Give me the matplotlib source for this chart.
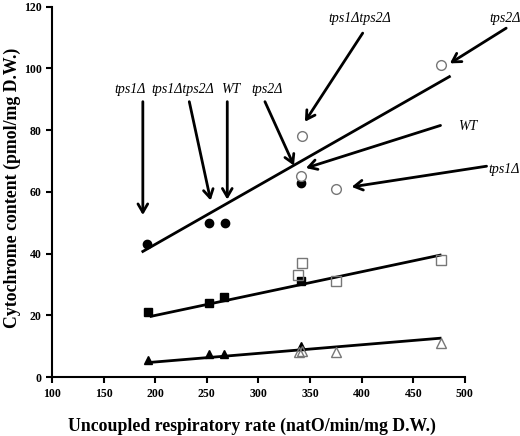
import matplotlib.pyplot as plt

plt.rcParams['font.family'] = ['Liberation Serif', 'DejaVu Serif']

# filled = mean values, open = mutants (circle / square / triangle series)
circ_x = [192, 252, 268, 341]
circ_y = [43, 50, 50, 63]
circ_open_x = [341, 342, 375, 477]
circ_open_y = [65, 78, 61, 101]

sq_x = [193, 252, 267, 341]
sq_y = [21, 24, 26, 31]
sq_open_x = [338, 342, 375, 477]
sq_open_y = [33, 37, 31, 38]

tri_x = [193, 252, 267, 341]
tri_y = [5.5, 7.5, 7.5, 10]
tri_open_x = [339, 342, 375, 477]
tri_open_y = [8, 8.5, 8, 11]

# regression lines (end points)
fit_x = [[188, 485], [196, 476], [196, 476]]
fit_y = [[40.7, 97.3], [19.7, 39.5], [4.8, 12.6]]

# labels: text, text pos, arrow start, arrow end
ann_text = ['tps1Δ', 'tps1Δtps2Δ', 'WT', 'tps2Δ', 'tps1Δtps2Δ', 'tps2Δ', 'WT', 'tps1Δ']
ann_txt_xy = [(175.5, 93), (227, 93), (273.4, 93), (308.2, 93),
              (398.3, 116.2), (538.7, 116.2), (502.6, 81.2), (538.3, 67.2)]
ann_start = [(188, 89.2), (233, 89.2), (269.8, 89.2), (306.3, 89.2),
             (401, 111.4), (540, 113), (476.4, 81.5), (521, 68.3)]
ann_end = [(188, 52.5), (253.7, 57.2), (269.8, 57.5), (334.4, 68.5),
           (345, 82.7), (485.5, 101.6), (346, 67.7), (390.3, 61.6)]

fig = plt.figure(figsize=(5.2, 4.36), dpi=100)
ax = fig.add_axes([0.1, 0.135, 0.794, 0.85])

for fx, fy in zip(fit_x, fit_y):
    ax.plot(fx, fy, color='black', lw=2, zorder=2)

grey = '#777777'
ax.plot(circ_x, circ_y, 'o', color='black', ms=6, zorder=3)
ax.plot(circ_open_x, circ_open_y, 'o', mfc='white', mec=grey, ms=7, zorder=3)
ax.plot(sq_x, sq_y, 's', color='black', ms=6, zorder=3)
ax.plot(sq_open_x, sq_open_y, 's', mfc='none', mec=grey, ms=7, zorder=3)
ax.plot(tri_x, tri_y, '^', color='black', ms=6, zorder=3)
ax.plot(tri_open_x, tri_open_y, '^', mfc='none', mec=grey, ms=7, zorder=3)

for t, txy, s, e in zip(ann_text, ann_txt_xy, ann_start, ann_end):
    ax.text(txy[0], txy[1], t, ha='center', va='center', style='italic',
            fontsize=10, clip_on=False)
    ax.annotate('', xy=e, xytext=s, annotation_clip=False,
                arrowprops=dict(arrowstyle='->,head_length=0.6,head_width=0.35',
                                color='black', lw=2, shrinkA=0, shrinkB=0))

ax.set_xlim(100, 500)
ax.set_ylim(0, 120)
ax.set_xticks(range(100, 501, 50))
ax.set_yticks(range(0, 121, 20))
ax.spines['top'].set_visible(False)
ax.spines['right'].set_visible(False)
ax.spines['left'].set_linewidth(1.5)
ax.spines['bottom'].set_linewidth(1.5)
ax.tick_params(width=1.5, length=4, labelsize=8.5)
for lab in ax.get_xticklabels() + ax.get_yticklabels():
    lab.set_fontweight('bold')

ax.set_xlabel('Uncoupled respiratory rate (natO/min/mg D.W.)', fontsize=12.8,
              fontweight='bold')
ax.set_ylabel('Cytochrome content (pmol/mg D.W.)', fontsize=12.8,
              fontweight='bold')
ax.xaxis.set_label_coords(0.485, -0.11)
ax.yaxis.set_label_coords(-0.076, 0.511)

plt.savefig('out.png', dpi=100)
